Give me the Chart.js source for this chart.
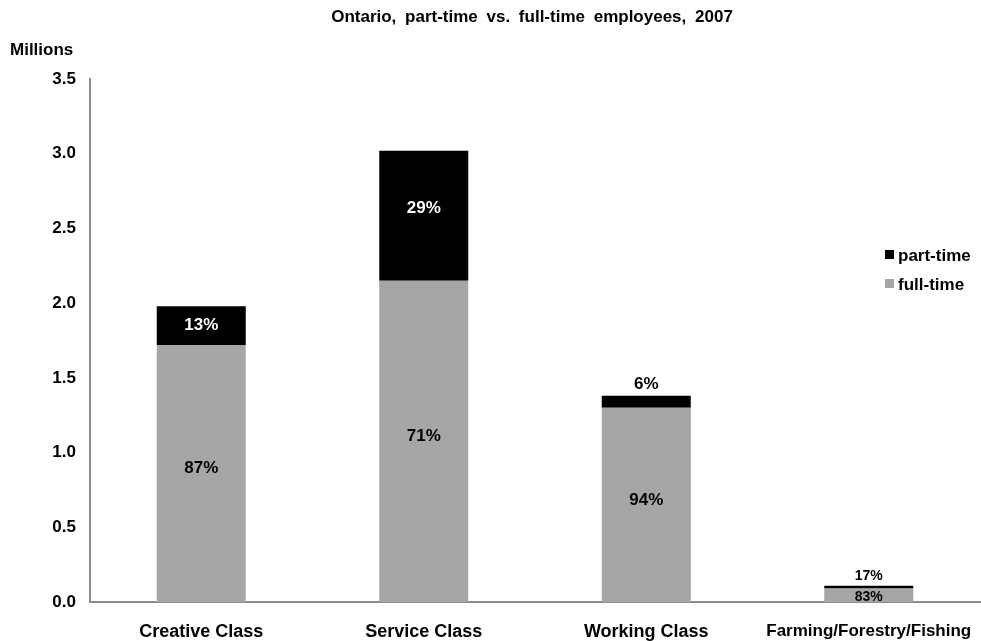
<!DOCTYPE html>
<html>
<head>
<meta charset="utf-8">
<script src="https://cdn.jsdelivr.net/npm/chart.js@4.4.1/dist/chart.umd.min.js"></script>
<style>
  html,body{margin:0;padding:0;background:#fff;overflow:hidden;}
  canvas{display:block;}
</style>
</head>
<body>
<canvas id="c" width="981" height="641"></canvas>
<script>
/* ── DATA (millions of employees) ── */
const categories = ['Creative Class','Service Class','Working Class','Farming/Forestry/Fishing'];
const fullTime   = [1.72, 2.15, 1.30, 0.090];
const partTime   = [0.26, 0.87, 0.08, 0.018];
const yTicks     = [0, 0.5, 1.0, 1.5, 2.0, 2.5, 3.0, 3.5];

const FONT = '"Liberation Sans", Arial, sans-serif';
const GREY = '#a6a6a6', AXIS = '#8c8c8c';

// share of each segment in its bar, printed on/above the bar
const pct = (v,i)=>Math.round(v/(fullTime[i]+partTime[i])*100)+'%';

/* ── overlay: title, unit label, legend, percentage labels ── */
const overlay = {
  id:'overlay',
  afterDatasetsDraw(chart){
    const ctx = chart.ctx;
    ctx.save();
    ctx.fillStyle='#000';
    ctx.textBaseline='middle';
    ctx.font='bold 17px '+FONT;
    ctx.textAlign='center';
    if ('wordSpacing' in ctx) ctx.wordSpacing='4px';
    ctx.fillText('Ontario, part-time vs. full-time employees, 2007', 532, 17);
    if ('wordSpacing' in ctx) ctx.wordSpacing='0px';
    ctx.textAlign='left';
    ctx.fillText('Millions', 10, 50);

    // legend
    [['part-time','#000',255],['full-time',GREY,284]].forEach(([t,c,y])=>{
      ctx.fillStyle=c; ctx.fillRect(885,y-5,9,9);
      ctx.fillStyle='#000'; ctx.font='bold 17px '+FONT; ctx.textAlign='left';
      ctx.fillText(t, 898, y+1);
    });

    // segment labels
    const full = chart.getDatasetMeta(0).data, part = chart.getDatasetMeta(1).data;
    ctx.textAlign='center';
    categories.forEach((_,i)=>{
      const f=full[i], p=part[i];
      const pH = p.base - p.y, fH = f.base - f.y;
      if (pH > 25) {
        ctx.font='bold 17px '+FONT; ctx.fillStyle='#fff';
        ctx.fillText(pct(partTime[i],i), p.x, (p.y+p.base)/2 - (pH>80?7:0));
      } else {
        const small = fH < 25;
        ctx.font='bold '+(small?14:17)+'px '+FONT; ctx.fillStyle='#000';
        ctx.fillText(pct(partTime[i],i), p.x, p.y-(small?10:11));
      }
      ctx.fillStyle='#000';
      if (fH > 25) {
        ctx.font='bold 17px '+FONT;
        ctx.fillText(pct(fullTime[i],i), f.x, (f.y+f.base)/2-5);
      } else {
        ctx.font='bold 14px '+FONT;
        ctx.fillText(pct(fullTime[i],i), f.x, f.base-5);
      }
    });
    ctx.restore();
  }
};

new Chart(document.getElementById('c'),{
  type:'bar',
  data:{
    labels:categories,
    datasets:[
      {label:'full-time', data:fullTime, backgroundColor:GREY, barPercentage:0.4, categoryPercentage:1},
      {label:'part-time', data:partTime, backgroundColor:'#000', barPercentage:0.4, categoryPercentage:1}
    ]
  },
  options:{
    responsive:false, animation:false,
    devicePixelRatio:1,
    layout:{padding:{top:79,right:1,left:0,bottom:0}},
    plugins:{legend:{display:false},title:{display:false},tooltip:{enabled:false}},
    scales:{
      x:{stacked:true,
         grid:{display:false,drawTicks:false},
         border:{display:true,color:AXIS,width:2},
         ticks:{color:'#000',padding:19,maxRotation:0,autoSkip:false,
                font:c=>({family:FONT,size:c.index===3?17:18,weight:'bold'})},
         afterFit:s=>{s.height=39; s.paddingLeft=0; s.paddingRight=0;}},
      y:{stacked:true,min:0,max:3.5,
         afterBuildTicks:s=>{s.ticks=yTicks.map(v=>({value:v}));},
         grid:{display:false,drawTicks:false},
         border:{display:true,color:AXIS,width:2},
         ticks:{color:'#000',font:{family:FONT,size:17,weight:'bold'},padding:14,
                callback:v=>Number(v).toFixed(1)},
         afterFit:s=>{s.width=90;}}
    }
  },
  plugins:[overlay]
});
</script>
</body>
</html>
